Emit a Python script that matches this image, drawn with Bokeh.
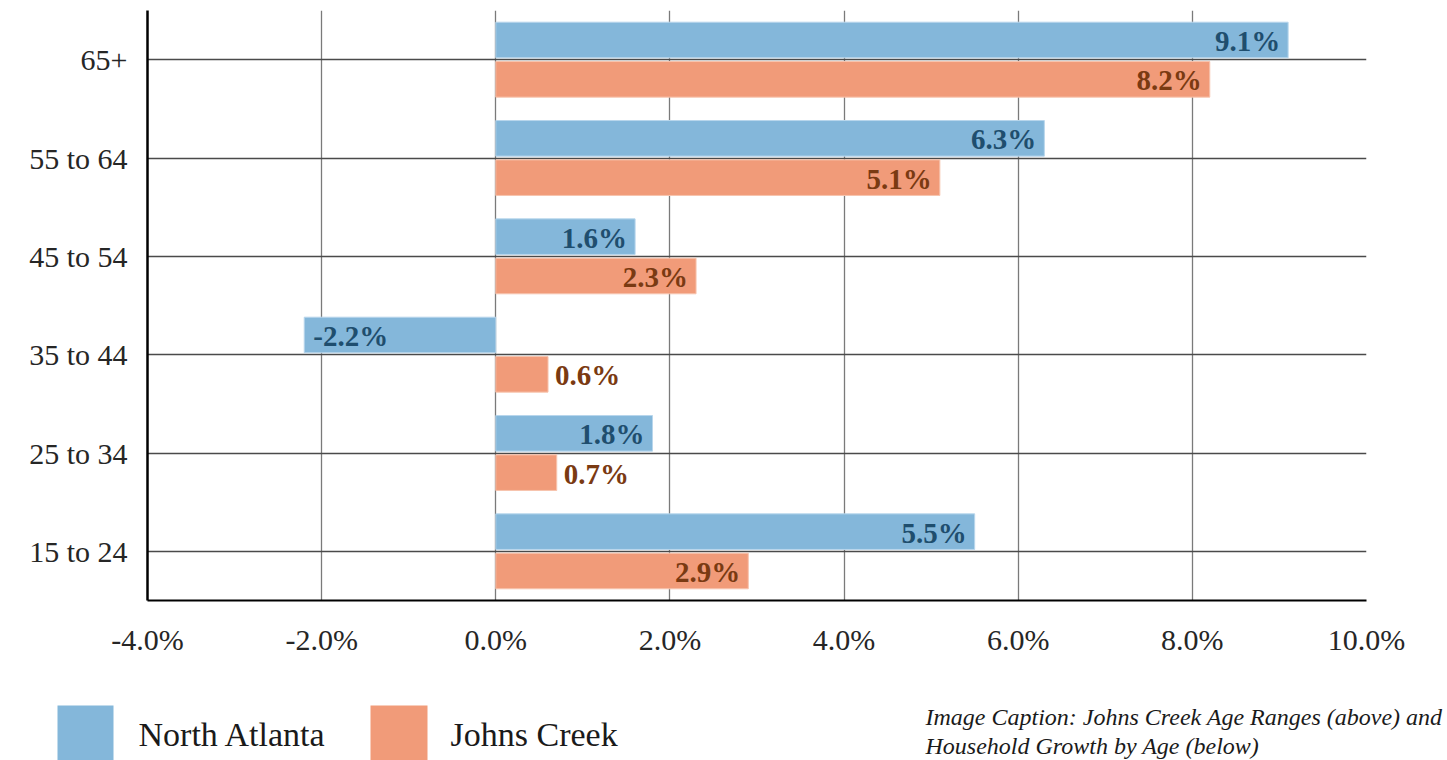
from bokeh.plotting import figure
from bokeh.models import (ColumnDataSource, FactorRange, Range1d, PrintfTickFormatter,
                          FixedTicker)
from bokeh.transform import dodge
from bokeh.layouts import column
from bokeh.core.properties import value
from bokeh.embed import file_html
from bokeh.resources import INLINE

# ---- data ----
categories = ["15 to 24", "25 to 34", "35 to 44", "45 to 54", "55 to 64", "65+"]
north_atlanta = [5.5, 1.8, -2.2, 1.6, 6.3, 9.1]
johns_creek = [2.9, 0.7, 0.6, 2.3, 5.1, 8.2]
series_names = ["North Atlanta", "Johns Creek"]
x_ticks = [-4, -2, 0, 2, 4, 6, 8, 10]
caption_lines = ["Image Caption: Johns Creek Age Ranges (above) and",
                 "Household Growth by Age (below)"]

FONT = "Liberation Serif"
BLUE = "#84b7da"
ORANGE = "#f19b79"
BLUE_TXT = "#1f4e6e"
ORANGE_TXT = "#7a3a12"

# geometry (page pixels)
W = 1447
H1 = 680          # chart part
H2 = 80           # legend / caption strip
FL, FR, FT, FB = 147, 1366, 10, 600


def label_layout(vals):
    aligns, offs = [], []
    for v in vals:
        if v < 0:
            aligns.append("left"); offs.append(9)
        elif v < 1.0:
            aligns.append("left"); offs.append(7)
        else:
            aligns.append("right"); offs.append(-8)
    return aligns, offs


na_al, na_off = label_layout(north_atlanta)
jc_al, jc_off = label_layout(johns_creek)

src = ColumnDataSource(dict(
    cat=categories,
    na=north_atlanta, jc=johns_creek,
    na_lab=["%.1f%%" % v for v in north_atlanta],
    jc_lab=["%.1f%%" % v for v in johns_creek],
    na_al=na_al, na_off=na_off,
    jc_al=jc_al, jc_off=jc_off,
))

p = figure(width=W, height=H1, output_backend="svg", toolbar_location=None,
           y_range=FactorRange(*categories, range_padding=0),
           x_range=Range1d(-4, 10),
           min_border_left=FL, min_border_right=W - FR,
           min_border_top=FT, min_border_bottom=H1 - FB)
p.outline_line_color = None
p.background_fill_color = "white"

p.hbar(y=dodge("cat", 0.2, range=p.y_range), left=0, right="na", height=0.362,
       source=src, fill_color=BLUE, line_color="#b8d6ec", line_width=1)
p.hbar(y=dodge("cat", -0.2, range=p.y_range), left=0, right="jc", height=0.362,
       source=src, fill_color=ORANGE, line_color="#f7c4ae", line_width=1)

p.text(x="na", y=dodge("cat", 0.2, range=p.y_range), text="na_lab", source=src,
       text_align="na_al", x_offset="na_off", text_baseline="middle", y_offset=1,
       text_font=value(FONT), text_font_style="bold", text_font_size="29px",
       text_color=BLUE_TXT)
p.text(x="jc", y=dodge("cat", -0.2, range=p.y_range), text="jc_lab", source=src,
       text_align="jc_al", x_offset="jc_off", text_baseline="middle", y_offset=1,
       text_font=value(FONT), text_font_style="bold", text_font_size="29px",
       text_color=ORANGE_TXT)

p.xaxis.ticker = FixedTicker(ticks=x_ticks)
p.xaxis.formatter = PrintfTickFormatter(format="%.1f%%")
for ax in (p.xaxis, p.yaxis):
    ax.major_tick_line_color = None
    ax.minor_tick_line_color = None
    ax.axis_line_color = "black"
    ax.major_label_text_font = FONT
    ax.major_label_text_font_size = "30px"
    ax.major_label_text_color = "#262626"
p.xaxis.axis_line_width = 2
p.yaxis.axis_line_width = 2.5
p.xaxis.major_label_standoff = 16
p.yaxis.major_label_standoff = 14

p.xgrid.grid_line_color = "#7a7a7a"
p.xgrid.grid_line_width = 1.3
p.ygrid.grid_line_color = "#4a4a4a"
p.ygrid.grid_line_width = 1.3

# ---- legend / caption strip, in page pixel coordinates ----
q = figure(width=W, height=H2, output_backend="svg", toolbar_location=None,
           x_range=Range1d(0, W), y_range=Range1d(H1 + H2, H1),
           min_border=0)
q.frame_align = False
q.axis.visible = False
q.grid.visible = False
q.outline_line_color = None

q.quad(left=[57, 370], right=[113, 427], top=[705, 705], bottom=[762, 762],
       fill_color=[BLUE, ORANGE], line_color=None)
q.text(x=[138, 450], y=[734, 734], text=series_names,
       text_font=value(FONT), text_font_size="34px", text_color="#1a1a1a",
       text_baseline="middle", text_align="left")
q.text(x=[925, 925], y=[716, 745], text=caption_lines,
       text_font=value(FONT), text_font_style="italic", text_font_size="24px",
       text_color="#1a1a1a", text_baseline="alphabetic", text_align="left")

layout = column(p, q, spacing=0)
open("out.html", "w").write(file_html(layout, INLINE))
